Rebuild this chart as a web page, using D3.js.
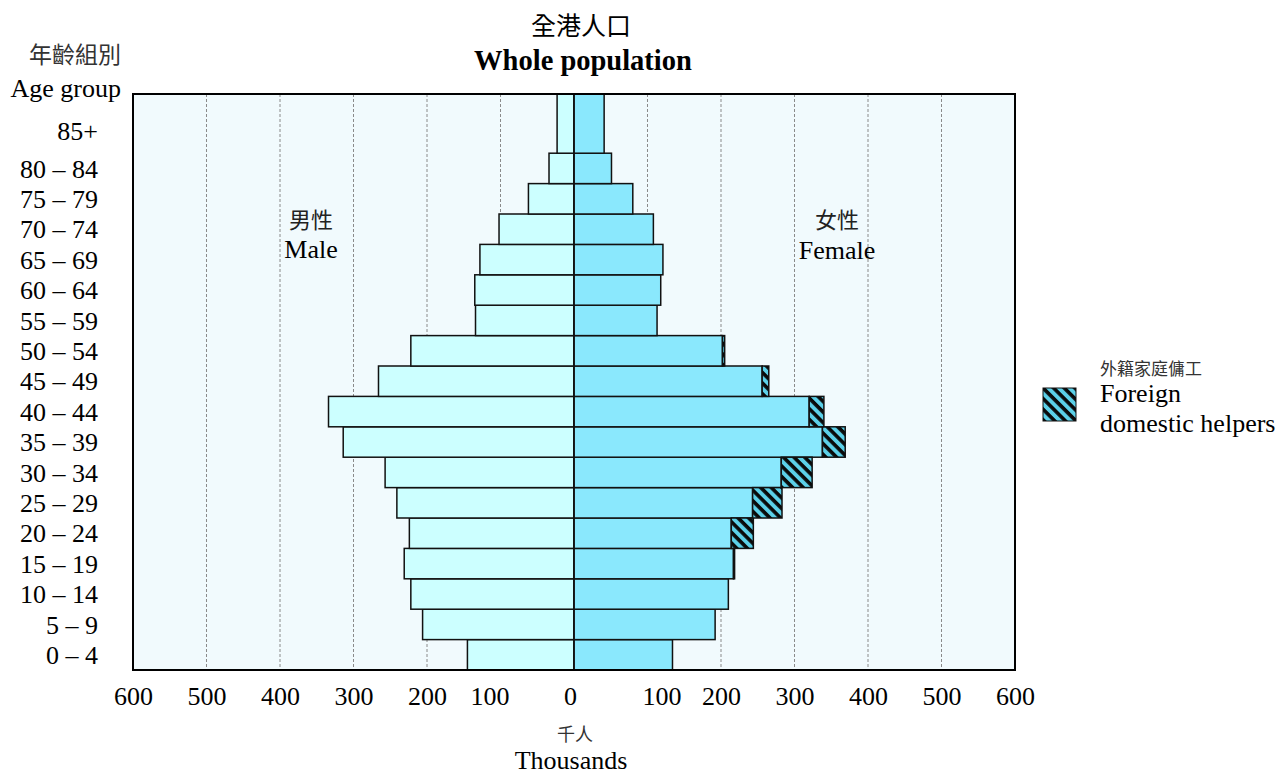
<!DOCTYPE html>
<html>
<head>
<meta charset="utf-8">
<script src="https://cdn.jsdelivr.net/npm/d3@7"></script>
<style>
  html, body { margin: 0; padding: 0; background: #ffffff; }
  svg { display: block; }
</style>
</head>
<body>
<svg id="chart" width="1283" height="774"></svg>
<script>
// ---- Data (thousands) ----
const ageGroups = ["0 – 4","5 – 9","10 – 14","15 – 19","20 – 24","25 – 29","30 – 34","35 – 39","40 – 44","45 – 49","50 – 54","55 – 59","60 – 64","65 – 69","70 – 74","75 – 79","80 – 84","85+"];
const maleValues   = [145, 206, 222, 231, 224, 241, 257, 314, 334, 266, 222, 134, 135, 128, 102, 62, 34, 23];
const femaleValues = [134, 192, 210, 217, 214, 243, 282, 338, 320, 256, 202, 113, 118, 121, 108, 80, 51, 41];
const helperValues = [0, 0, 0, 1.5, 30, 40, 42, 31, 20, 9, 3, 0, 0, 0, 0, 0, 0, 0];
const tickValues = [-600,-500,-400,-300,-200,-100,0,100,200,300,400,500,600];

const svg = d3.select("#chart");
const serif = "'Liberation Serif', 'Times New Roman', serif";
const cjk = "'Noto Sans CJK TC', 'Noto Sans CJK SC', sans-serif";

const plot = {left: 133, right: 1015, top: 94, bottom: 670};
const x = d3.scaleLinear().domain([-600, 600]).range([plot.left, plot.right]);
const rowH = 30.4;
const y = d3.scaleBand().domain(ageGroups)
  .range([plot.bottom, plot.bottom - rowH * ageGroups.length]).padding(0);

const rows = ageGroups.map((a, i) => ({age: a, male: maleValues[i], female: femaleValues[i], helper: helperValues[i]}));

// pattern
const defs = svg.append("defs");
const pat = defs.append("pattern").attr("id", "hatch")
  .attr("patternUnits", "userSpaceOnUse").attr("width", 7.5).attr("height", 7.5)
  .attr("patternTransform", "rotate(45)");
pat.append("rect").attr("width", 7.5).attr("height", 7.5).attr("fill", "#5cd0e8");
pat.append("rect").attr("width", 7.5).attr("height", 3.6).attr("fill", "#0a0a0a");

defs.append("clipPath").attr("id", "plotClip").append("rect")
  .attr("x", plot.left).attr("y", plot.top)
  .attr("width", plot.right - plot.left).attr("height", plot.bottom - plot.top);

// background
svg.append("rect").attr("x", plot.left).attr("y", plot.top)
  .attr("width", plot.right - plot.left).attr("height", plot.bottom - plot.top)
  .attr("fill", "#f1fafd");

// gridlines
svg.append("g").selectAll("line")
  .data(tickValues.filter(t => t !== 0 && Math.abs(t) !== 600))
  .join("line")
  .attr("x1", d => x(d)).attr("x2", d => x(d))
  .attr("y1", plot.top).attr("y2", plot.bottom)
  .attr("stroke", "#8a8a8a").attr("stroke-width", 1).attr("stroke-dasharray", "3,2");

const bars = svg.append("g").attr("clip-path", "url(#plotClip)");
const barTop = d => d.age === "85+" ? plot.top - 2 : y(d.age);
const barH = d => y(d.age) + y.bandwidth() - barTop(d);

// male
bars.selectAll("rect.male").data(rows).join("rect").attr("class", "male")
  .attr("x", d => x(-d.male)).attr("width", d => x(0) - x(-d.male))
  .attr("y", barTop).attr("height", barH)
  .attr("fill", "#ccffff").attr("stroke", "#111").attr("stroke-width", 1.5);
// female
bars.selectAll("rect.female").data(rows).join("rect").attr("class", "female")
  .attr("x", x(0)).attr("width", d => x(d.female) - x(0))
  .attr("y", barTop).attr("height", barH)
  .attr("fill", "#8ae8fd").attr("stroke", "#111").attr("stroke-width", 1.5);
// helpers
bars.selectAll("rect.helper").data(rows.filter(d => d.helper > 0)).join("rect").attr("class", "helper")
  .attr("x", d => x(d.female)).attr("width", d => x(d.female + d.helper) - x(d.female))
  .attr("y", barTop).attr("height", barH)
  .attr("fill", "url(#hatch)").attr("stroke", "#111").attr("stroke-width", 1.5);

// center line
svg.append("line").attr("x1", x(0)).attr("x2", x(0)).attr("y1", plot.top).attr("y2", plot.bottom)
  .attr("stroke", "#111").attr("stroke-width", 1.5);

// border
svg.append("rect").attr("x", plot.left).attr("y", plot.top)
  .attr("width", plot.right - plot.left).attr("height", plot.bottom - plot.top)
  .attr("fill", "none").attr("stroke", "#000").attr("stroke-width", 2);

// x axis labels
const xAxis = d3.axisBottom(x).tickValues(tickValues).tickSize(0).tickPadding(0)
  .tickFormat(d => Math.abs(d));
const gx = svg.append("g").attr("transform", `translate(0,${plot.bottom})`).call(xAxis);
gx.select(".domain").remove();
gx.selectAll("text").attr("font-family", serif).attr("font-size", 26).attr("fill", "#000")
  .attr("dy", null).attr("y", 35)
  .attr("dx", d => d === -100 ? -11 : d === 100 ? 14 : d === 0 ? -4 : 0);

// y labels
const gy = svg.append("g");
gy.selectAll("text").data(ageGroups).join("text")
  .attr("x", 98)
  .attr("y", d => d === "85+" ? y(d) + y.bandwidth() / 2 - 7 : y(d) + y.bandwidth() / 2)
  .attr("dy", "0.35em")
  .attr("text-anchor", "end")
  .attr("font-family", serif).attr("font-size", 26).attr("fill", "#000")
  .text(d => d);

// titles
svg.append("text").attr("x", 581).attr("y", 35).attr("text-anchor", "middle")
  .attr("font-family", cjk).attr("font-size", 25).attr("fill", "#000").text("全港人口");
svg.append("text").attr("x", 583).attr("y", 70).attr("text-anchor", "middle")
  .attr("font-family", serif).attr("font-size", 28.5).attr("font-weight", "bold").attr("fill", "#000").text("Whole population");

svg.append("text").attr("x", 121).attr("y", 63).attr("text-anchor", "end")
  .attr("font-family", cjk).attr("font-size", 23).attr("fill", "#333").text("年齡組別");
svg.append("text").attr("x", 121).attr("y", 97).attr("text-anchor", "end")
  .attr("font-family", serif).attr("font-size", 26).attr("fill", "#000").text("Age group");

// sex labels
svg.append("text").attr("x", 311).attr("y", 228).attr("text-anchor", "middle")
  .attr("font-family", cjk).attr("font-size", 22).attr("fill", "#222").text("男性");
svg.append("text").attr("x", 311).attr("y", 258).attr("text-anchor", "middle")
  .attr("font-family", serif).attr("font-size", 26).attr("fill", "#000").text("Male");
svg.append("text").attr("x", 837).attr("y", 228).attr("text-anchor", "middle")
  .attr("font-family", cjk).attr("font-size", 22).attr("fill", "#222").text("女性");
svg.append("text").attr("x", 837).attr("y", 259).attr("text-anchor", "middle")
  .attr("font-family", serif).attr("font-size", 26).attr("fill", "#000").text("Female");

// x axis title
svg.append("text").attr("x", 575).attr("y", 741).attr("text-anchor", "middle")
  .attr("font-family", cjk).attr("font-size", 18).attr("fill", "#333").text("千人");
svg.append("text").attr("x", 571).attr("y", 769).attr("text-anchor", "middle")
  .attr("font-family", serif).attr("font-size", 26).attr("fill", "#000").text("Thousands");

// legend
svg.append("rect").attr("x", 1043).attr("y", 388).attr("width", 33).attr("height", 33)
  .attr("fill", "url(#hatch)").attr("stroke", "#111").attr("stroke-width", 1);
svg.append("text").attr("x", 1100).attr("y", 375)
  .attr("font-family", cjk).attr("font-size", 17).attr("fill", "#333").text("外籍家庭傭工");
svg.append("text").attr("x", 1100).attr("y", 402)
  .attr("font-family", serif).attr("font-size", 26).attr("fill", "#000").text("Foreign");
svg.append("text").attr("x", 1100).attr("y", 432)
  .attr("font-family", serif).attr("font-size", 26).attr("fill", "#000").text("domestic helpers");
</script>
</body>
</html>
